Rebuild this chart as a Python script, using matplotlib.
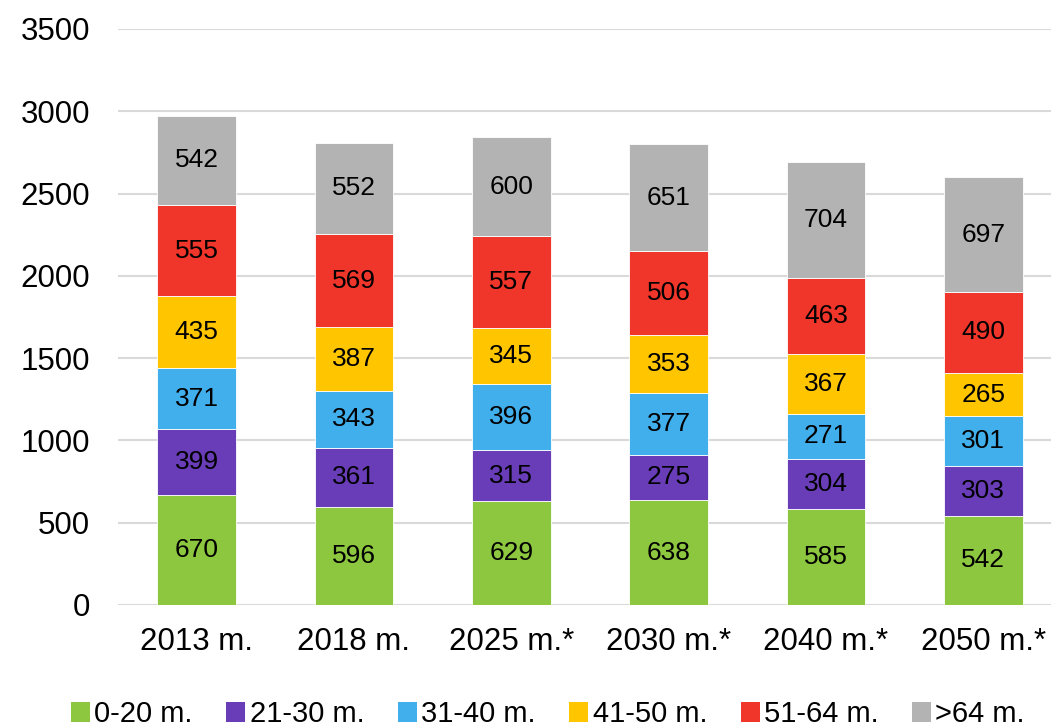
import matplotlib
matplotlib.use("Agg")
import matplotlib.pyplot as plt
import numpy as np
from matplotlib.patches import Patch

categories = ["2013 m.", "2018 m.", "2025 m.*", "2030 m.*", "2040 m.*", "2050 m.*"]
series_names = ["0-20 m.", "21-30 m.", "31-40 m.", "41-50 m.", "51-64 m.", ">64 m."]
s0_20 = [670, 596, 629, 638, 585, 542]
s21_30 = [399, 361, 315, 275, 304, 303]
s31_40 = [371, 343, 396, 377, 271, 301]
s41_50 = [435, 387, 345, 353, 367, 265]
s51_64 = [555, 569, 557, 506, 463, 490]
s64p = [542, 552, 600, 651, 704, 697]
yticks = [0, 500, 1000, 1500, 2000, 2500, 3000, 3500]

colors = ["#8DC63F", "#6A3DB8", "#42AFED", "#FFC600", "#F0352A", "#B3B3B3"]
series = [s0_20, s21_30, s31_40, s41_50, s51_64, s64p]

plt.rcParams['font.family'] = ['Liberation Sans', 'DejaVu Sans']

fig = plt.figure(figsize=(10.51, 7.27), dpi=100)
ax = fig.add_axes([118/1051, 1 - 605/727, (1062-118)/1051, 576/727])

x = np.arange(len(categories))
bottom = np.zeros(len(categories))
for vals, col in zip(series, colors):
    vals = np.array(vals)
    ax.bar(x, vals, width=0.5, bottom=bottom, color=col, edgecolor="white", linewidth=0.6, zorder=3)
    for xi, b, v in zip(x, bottom, vals):
        ax.text(xi, b + v / 2, str(v), ha="center", va="center", fontsize=19, color="black", zorder=4)
    bottom += vals

ax.set_xlim(-0.5, len(categories) - 0.5)
ax.set_ylim(0, 3500)
ax.set_yticks(yticks)
ax.set_yticklabels([str(t) for t in yticks], fontsize=22.5)
ax.set_xticks(x)
ax.set_xticklabels(categories, fontsize=22.5)
ax.tick_params(axis="both", length=0)
ax.tick_params(axis="y", pad=20)
ax.tick_params(axis="x", pad=16)
for s in ax.spines.values():
    s.set_visible(False)
ax.grid(axis="y", color="#D9D9D9", linewidth=1.5, zorder=0)
ax.set_axisbelow(True)

handles = [Patch(facecolor=c, edgecolor="none") for c in colors]
leg = fig.legend(handles, series_names, loc="center", bbox_to_anchor=(548/1051, 1 - 714/727),
                 ncol=6, frameon=False, handlelength=0.65, handleheight=0.7, handletextpad=0.15,
                 columnspacing=1.15, prop={"size": 21})

fig.savefig("out.png", dpi=100)
